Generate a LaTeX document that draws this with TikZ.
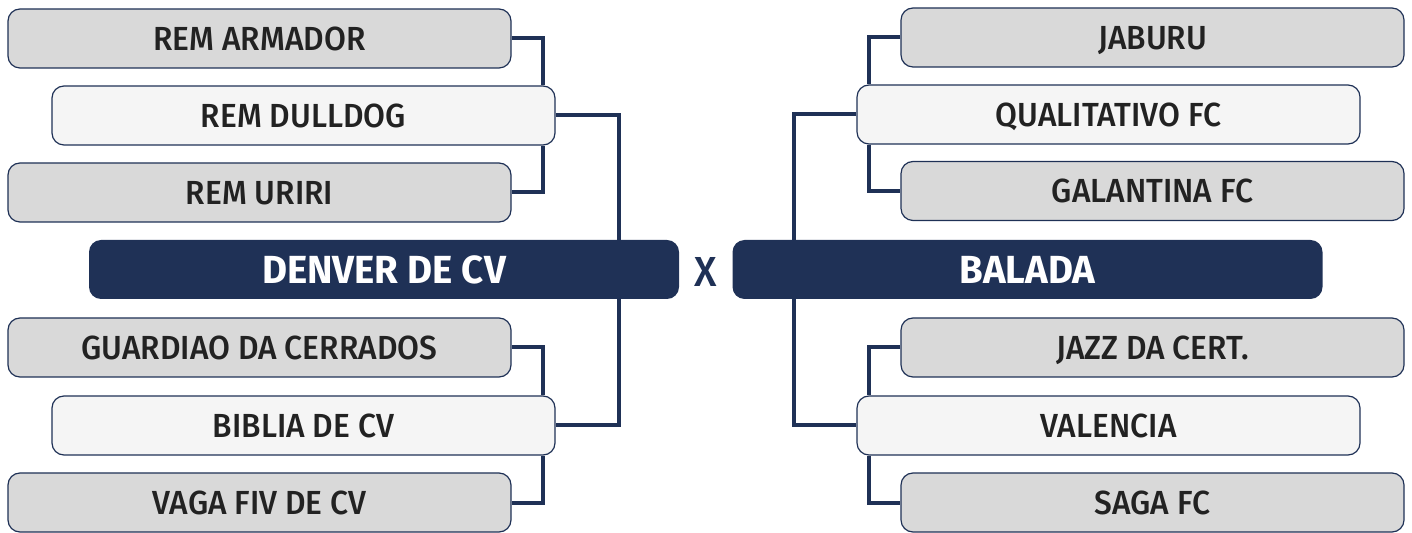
\documentclass[tikz,border=0pt]{standalone}
\usepackage{fontspec}
\setmainfont{Fira Sans}[FakeStretch=0.98]
\newfontfamily\teamfont{Fira Sans Medium}[FakeStretch=0.95]
\usepackage{tikz}
\definecolor{navy}{HTML}{1F3156}
\definecolor{boxgrey}{HTML}{D9D9D9}
\definecolor{boxlight}{HTML}{F5F5F5}
\definecolor{ink}{HTML}{222222}

\begin{document}
\begin{tikzpicture}[x=0.5pt,y=-0.5pt,
	team/.style={draw=navy,line width=0.6pt,rounded corners=6pt,
		minimum width=251.5pt,minimum height=29.5pt,text depth=0pt,
		font=\teamfont\fontsize{16.7}{18}\selectfont,text=ink},
	seed/.style={team,fill=boxgrey},
	winner/.style={team,fill=boxlight},
	final/.style={fill=navy,rounded corners=6pt,minimum width=295pt,minimum height=29.5pt,
		text depth=0pt,font=\bfseries\fontsize{19.6}{22}\selectfont,text=white},
	link/.style={draw=navy,line width=2pt}]
	\useasboundingbox (0,0) rectangle (1412,533);
	% left bracket
	\node[seed](armador) at (259.5,38.5){REM ARMADOR};
	\node[winner](dulldog) at (303.5,115.5){REM DULLDOG};
	\node[seed](uriri) at (259.5,192.5){REM URIRI};
	\node[final](denver) at (384,269.5){DENVER DE CV};
	\node[seed](guardiao) at (259.5,347.5){GUARDIAO DA CERRADOS};
	\node[winner](biblia) at (303.5,425.5){BIBLIA DE CV};
	\node[seed](vaga) at (259.5,502.5){VAGA FIV DE CV};
	% right bracket
	\node[seed](jaburu) at (1152.5,37.5){JABURU};
	\node[winner](qualitativo) at (1108.5,114.5){QUALITATIVO FC};
	\node[seed](galantina) at (1152.5,191){GALANTINA FC};
	\node[final](balada) at (1027.5,269.5){BALADA};
	\node[seed](jazz) at (1152.5,347.5){JAZZ DA CERT.};
	\node[winner](valencia) at (1108.5,425.5){VALENCIA};
	\node[seed](saga) at (1152.5,502.5){SAGA FC};
	\node[text=navy,text depth=0pt,font=\teamfont\fontsize{21}{24}\selectfont](versus) at (706,272){X};
	% connectors
	\draw[link] (armador.east) -| ([xshift=-6.5pt]dulldog.north east);
	\draw[link] ([xshift=-6.5pt]dulldog.south east) |- (uriri.east);
	\draw[link] (dulldog.east) -| ([xshift=-30pt]denver.north east);
	\draw[link] ([xshift=-30pt]denver.south east) |- (biblia.east);
	\draw[link] (guardiao.east) -| ([xshift=-6.5pt]biblia.north east);
	\draw[link] ([xshift=-6.5pt]biblia.south east) |- (vaga.east);
	\draw[link] (jaburu.west) -| ([xshift=6.5pt]qualitativo.north west);
	\draw[link] ([xshift=6.5pt]qualitativo.south west) |- (galantina.west);
	\draw[link] (qualitativo.west) -| ([xshift=31pt]balada.north west);
	\draw[link] ([xshift=31pt]balada.south west) |- (valencia.west);
	\draw[link] (jazz.west) -| ([xshift=6.5pt]valencia.north west);
	\draw[link] ([xshift=6.5pt]valencia.south west) |- (saga.west);
\end{tikzpicture}
\end{document}
